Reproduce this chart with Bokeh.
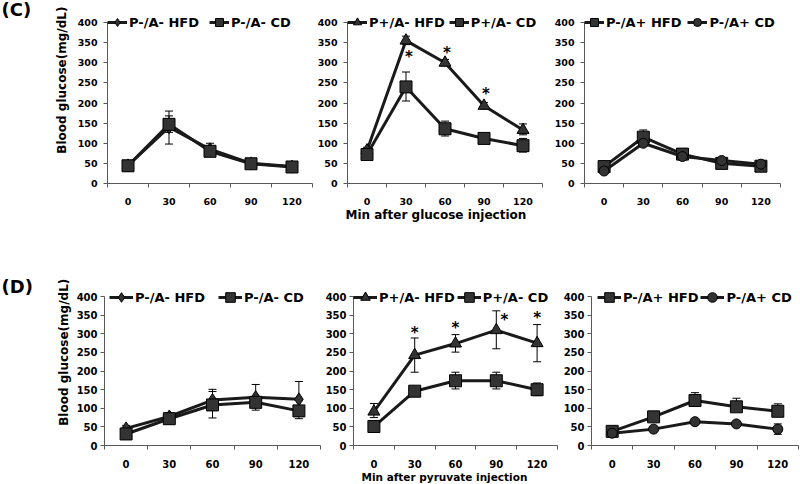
import math
from bokeh.plotting import figure
from bokeh.models import (ColumnDataSource, Whisker, TeeHead, Legend, LegendItem,
                          FixedTicker, Range1d, Title)
from bokeh.layouts import column, row
from bokeh.embed import file_html
from bokeh.resources import INLINE
from bokeh.core.properties import value

# ---------------- data ----------------
minutes = [0, 30, 60, 90, 120]
minute_labels = ["0", "30", "60", "90", "120"]
y_ticks = [0, 50, 100, 150, 200, 250, 300, 350, 400]
y_max = 400
y_label = "Blood glucose(mg/dL)"
x_label_c = "Min after glucose injection"
x_label_d = "Min after pyruvate injection"
tag_c = "(C)"
tag_d = "(D)"

# (C) glucose tolerance
c1_hfd = [45, 140, 85, 50, 42]
c1_hfd_up = [12, 28, 15, 12, 5]
c1_hfd_dn = [12, 42, 12, 8, 5]
c1_cd = [44, 147, 80, 49, 41]
c1_cd_up = [12, 33, 12, 10, 5]
c1_cd_dn = [13, 20, 10, 8, 5]

c2_hfd = [82, 355, 300, 193, 133]
c2_hfd_up = [8, 11, 8, 8, 15]
c2_hfd_dn = [8, 10, 8, 8, 12]
c2_cd = [72, 240, 136, 112, 94]
c2_cd_up = [8, 37, 19, 6, 18]
c2_cd_dn = [8, 35, 18, 6, 16]
c2_star_x = [30, 60, 90]
c2_star_y = [320, 330, 228]
c2_star_shift = [3, 2, 2]

c3_hfd = [42, 115, 73, 50, 43]
c3_hfd_up = [6, 18, 14, 6, 5]
c3_hfd_dn = [6, 12, 14, 6, 5]
c3_cd = [31, 100, 67, 57, 48]
c3_cd_up = [5, 8, 8, 5, 5]
c3_cd_dn = [5, 8, 8, 5, 5]

# (D) pyruvate tolerance
d1_hfd = [46, 78, 122, 130, 124]
d1_hfd_up = [8, 10, 29, 34, 48]
d1_hfd_dn = [8, 10, 20, 20, 20]
d1_cd = [31, 72, 109, 116, 93]
d1_cd_up = [6, 10, 36, 14, 14]
d1_cd_dn = [6, 14, 35, 21, 21]

d2_hfd = [91, 243, 274, 310, 275]
d2_hfd_up = [22, 46, 24, 52, 50]
d2_hfd_dn = [16, 46, 23, 50, 50]
d2_cd = [51, 146, 174, 174, 150]
d2_cd_up = [5, 8, 23, 23, 18]
d2_cd_dn = [5, 8, 22, 22, 16]
d2_star_x = [30, 60, 90, 120]
d2_star_y = [307, 320, 342, 347]
d2_star_shift = [0, 0, 8, 0]

d3_hfd = [38, 77, 121, 104, 92]
d3_hfd_up = [5, 6, 21, 23, 20]
d3_hfd_dn = [0, 0, 0, 0, 0]
d3_cd = [33, 44, 64, 58, 44]
d3_cd_up = [4, 5, 6, 5, 14]
d3_cd_dn = [4, 5, 6, 5, 14]

# ---------------- style ----------------
FONT = "DejaVu Sans"
LINE = "#1a1a1a"
FILL = "#333333"
AX = "#595959"
MARKERS = {"diamond": 13, "square": 12, "triangle": 12, "circle": 10}


def side_fig(tag, width, height, tag_cy, ylab_cx, ylab_cy):
    """Left strip holding the panel letter and the rotated y-axis title."""
    p = figure(width=width, height=height, min_border=0,
               x_range=Range1d(0, width), y_range=Range1d(0, height),
               x_axis_type=None, y_axis_type=None,
               output_backend="svg", toolbar_location=None, tools="")
    p.grid.visible = False
    p.outline_line_color = None
    p.text(x=[1], y=[height - tag_cy], text=[tag], text_font=value(FONT),
           text_font_style="bold", text_font_size="18px", text_align="left",
           text_baseline="middle", text_color="black")
    p.text(x=[ylab_cx], y=[height - ylab_cy], text=[y_label], angle=math.pi / 2,
           text_font=value(FONT), text_font_style="bold", text_font_size="12px",
           text_align="center", text_baseline="middle", text_color="black")
    return p


def panel(width, height, bl, br, frame_h, plot_h, series, leg_xy, leg_gw, leg_sp,
          tick_font, ystand, xlabel=None, xlabel_font="12px", xlabel_off=0,
          stars=None):
    # frame spans the full top of the figure; the axis itself stops at y_max
    bb = height - frame_h
    y_end = y_max * frame_h / plot_h
    p = figure(width=width, height=height, min_border_left=bl, min_border_right=br,
               min_border_top=0, min_border_bottom=bb,
               x_range=Range1d(-15, 135), y_range=Range1d(0, y_end),
               output_backend="svg", toolbar_location=None, tools="")
    p.grid.visible = False
    p.outline_line_color = None
    p.background_fill_color = "white"
    p.border_fill_color = "white"

    items = []
    for name, vals, up, dn, marker in series:
        src = ColumnDataSource(dict(
            x=minutes, y=vals,
            upper=[v + u for v, u in zip(vals, up)],
            lower=[v - d for v, d in zip(vals, dn)]))
        w = Whisker(source=src, base="x", upper="upper", lower="lower",
                    line_color="black", line_width=1, level="underlay",
                    upper_head=TeeHead(size=8, line_color="black", line_width=1),
                    lower_head=TeeHead(size=8, line_color="black", line_width=1))
        p.add_layout(w)
        lr = p.line("x", "y", source=src, line_width=3, line_color=LINE)
        sr = p.scatter("x", "y", source=src, marker=marker, size=MARKERS[marker],
                       fill_color=FILL, line_color="black", line_width=1)
        items.append(LegendItem(label=name, renderers=[lr, sr]))

    leg = Legend(items=items, location=leg_xy, orientation="horizontal",
                 label_text_font=FONT, label_text_font_style="bold",
                 label_text_font_size="13px", label_text_color="black",
                 glyph_width=leg_gw, glyph_height=26, label_height=26,
                 label_standoff=2, spacing=leg_sp, padding=0, margin=0,
                 background_fill_alpha=0, border_line_color=None)
    p.add_layout(leg)

    if stars is not None:
        sx, sy, sh = stars
        ssrc = ColumnDataSource(dict(x=sx, y=sy, t=["*"] * len(sx), dx=sh))
        p.text("x", "y", text="t", x_offset="dx", y_offset=2, source=ssrc,
               text_font=value(FONT), text_font_style="bold", text_font_size="15px",
               text_align="center", text_baseline="middle", text_color="black")

    xa = p.xaxis[0]
    xa.ticker = FixedTicker(ticks=minutes,
                            minor_ticks=[m - 15 for m in minutes] + [minutes[-1] + 15])
    xa.major_label_overrides = {m: s for m, s in zip(minutes, minute_labels)}
    xa.major_tick_line_color = None
    xa.major_tick_in = 0
    xa.major_tick_out = 0
    xa.minor_tick_in = 0
    xa.minor_tick_out = 4
    xa.minor_tick_line_color = AX
    xa.axis_line_color = AX
    xa.major_label_text_font = FONT
    xa.major_label_text_font_style = "bold"
    xa.major_label_text_font_size = tick_font
    xa.major_label_text_color = "black"
    xa.major_label_standoff = 10
    if xlabel:
        p.add_layout(Title(text=xlabel, align="left", offset=xlabel_off,
                           vertical_align="top", standoff=0,
                           text_font=FONT, text_font_style="bold",
                           text_font_size=xlabel_font, text_color="black"), "below")

    ya = p.yaxis[0]
    ya.ticker = FixedTicker(ticks=y_ticks)
    ya.bounds = (0, y_max)
    ya.major_tick_in = 0
    ya.major_tick_out = 4
    ya.major_tick_line_color = AX
    ya.minor_tick_line_color = None
    ya.axis_line_color = AX
    ya.major_label_text_font = FONT
    ya.major_label_text_font_style = "bold"
    ya.major_label_text_font_size = tick_font
    ya.major_label_text_color = "black"
    ya.major_label_standoff = ystand
    return p


# row C: 240 px tall, frame from top to y=0 at 183 px, 400 at 22 px
HC, FHC, PHC = 240, 183, 161
# row D: 244 px tall, frame from top to y=0 at 208 px, 400 at 57 px
HD, FHD, PHD = 244, 208, 151
SIDEW = 72

sc = side_fig(tag_c, SIDEW, HC, 12, 61, 104.5)
c1 = panel(242, HC, 35, 2, FHC, PHC,
           [("P-/A- HFD", c1_hfd, c1_hfd_up, c1_hfd_dn, "diamond"),
            ("P-/A- CD", c1_cd, c1_cd_up, c1_cd_dn, "square")],
           (0, 148), 20, 10, "9.5px", 6)
c2 = panel(236, HC, 33, 8, FHC, PHC,
           [("P+/A- HFD", c2_hfd, c2_hfd_up, c2_hfd_dn, "triangle"),
            ("P+/A- CD", c2_cd, c2_cd_up, c2_cd_dn, "square")],
           (0, 148), 20, 4, "9.5px", 6, xlabel=x_label_c, xlabel_font="12px",
           xlabel_off=-2, stars=(c2_star_x, c2_star_y, c2_star_shift))
c3 = panel(250, HC, 34, 20, FHC, PHC,
           [("P-/A+ HFD", c3_hfd, c3_hfd_up, c3_hfd_dn, "square"),
            ("P-/A+ CD", c3_cd, c3_cd_up, c3_cd_dn, "circle")],
           (0, 148), 20, 6, "9.5px", 6)

sd = side_fig(tag_d, SIDEW, HD, 55, 63.5, 133)
d1 = panel(250, HD, 32, 2, FHD, PHD,
           [("P-/A- HFD", d1_hfd, d1_hfd_up, d1_hfd_dn, "diamond"),
            ("P-/A- CD", d1_cd, d1_cd_up, d1_cd_dn, "square")],
           (5, 135), 24, 13, "10px", 3)
d2 = panel(238, HD, 30, 3, FHD, PHD,
           [("P+/A- HFD", d2_hfd, d2_hfd_up, d2_hfd_dn, "triangle"),
            ("P+/A- CD", d2_cd, d2_cd_up, d2_cd_dn, "square")],
           (0, 135), 24, 2, "10px", 3, xlabel=x_label_d, xlabel_font="10.5px",
           xlabel_off=8, stars=(d2_star_x, d2_star_y, d2_star_shift))
d3 = panel(240, HD, 31, 2, FHD, PHD,
           [("P-/A+ HFD", d3_hfd, d3_hfd_up, d3_hfd_dn, "square"),
            ("P-/A+ CD", d3_cd, d3_cd_up, d3_cd_dn, "circle")],
           (6, 135), 24, 2, "10px", 3)

layout = column(row(sc, c1, c2, c3, spacing=0),
                row(sd, d1, d2, d3, spacing=0), spacing=0)
open("out.html", "w").write(file_html(layout, INLINE))
